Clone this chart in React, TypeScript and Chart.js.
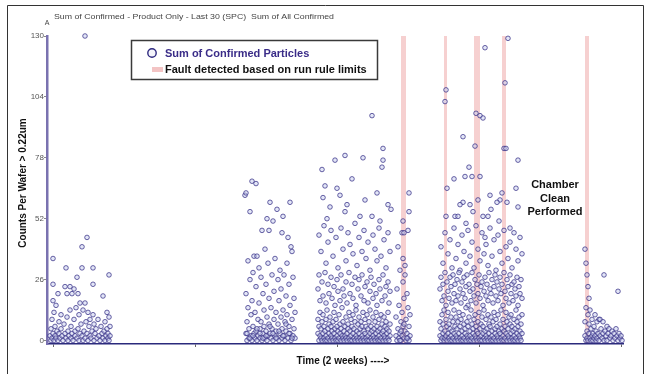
import { useEffect, useRef } from "react";
import { Chart, registerables } from "chart.js";
Chart.register(...registerables);

// ---- axis / tick values ----
const yTickValues = [0, 26, 52, 78, 104, 130];
const xTickValues = [6, 148, 290, 432, 574];

// ---- fault bands (time ranges) ----
const faultStart = [354, 397, 427, 455, 538];
const faultEnd = [359, 400, 433, 459, 542];

// ---- Sum of Confirmed Particles, [time, count] per wafer ----
const batch1: [number, number][] = [
  [3,2],[4,0],[4,5],[5,1],[5,9],[6,3],[6,17],[6,24],[6,35],[7,0],[7,12],[8,2],[8,6],[9,1],[9,15],[10,4],[11,0],[11,20],[12,8],[12,3],[13,1],[14,5],[14,11],[15,2],[16,0],[17,7],[18,3],[18,23],[19,31],[19,1],[20,20],[20,10],[21,4],[21,0],[22,2],[23,23],[23,13],[24,6],[24,1],[25,20],[25,3],[26,0],[27,22],[27,9],[28,4],[28,2],[29,14],[30,27],[30,1],[31,20],[31,5],[32,0],[32,11],[33,3],[33,16],[34,7],[35,40],[35,31],[35,2],[36,0],[36,13],[37,4],[38,130],[38,16],[38,1],[39,8],[40,44],[40,3],[41,0],[41,12],[42,6],[43,2],[43,9],[44,1],[45,4],[46,31],[46,24],[46,11],[47,0],[47,7],[48,3],[49,5],[50,1],[51,9],[52,2],[53,0],[54,6],[55,3],[56,19],[56,1],[57,4],[58,8],[58,0],[59,2],[60,12],[60,5],[61,1],[61,3],[62,28],[62,10],[62,0],[63,6],[63,2]
];

const batch2: [number, number][] = [
  [198,62],[199,63],[199,20],[199,3],[200,0],[200,8],[201,34],[201,14],[202,5],[202,1],[203,55],[203,26],[204,2],[204,11],[205,68],[205,17],[205,0],[206,6],[206,29],[207,3],[207,36],[208,1],[208,12],[209,67],[209,23],[209,4],[210,36],[210,0],[211,9],[211,2],[212,16],[212,31],[213,5],[213,1],[214,27],[214,8],[215,47],[215,0],[216,3],[216,20],[217,13],[217,6],[218,1],[218,39],[219,24],[219,4],[220,52],[220,10],[220,0],[221,2],[221,33],[222,47],[222,18],[222,7],[223,59],[223,3],[224,1],[224,14],[225,28],[225,5],[226,51],[226,0],[227,21],[227,9],[228,35],[228,2],[229,12],[229,4],[230,56],[230,1],[231,26],[231,7],[232,17],[232,0],[233,30],[233,3],[234,10],[234,22],[235,46],[235,5],[235,1],[236,53],[236,13],[237,28],[237,2],[238,8],[238,0],[239,19],[239,4],[240,33],[240,11],[241,44],[241,1],[242,24],[242,6],[243,59],[243,3],[243,15],[244,40],[244,0],[245,38],[245,9],[246,27],[246,2],[247,18],[247,5],[248,12],[248,1],
  [200,3],[203,1],[206,2],[210,5],[213,3],[216,1],[219,2],[223,6],[226,3],[229,1],[232,4],[236,2],[239,7],[242,3],[245,1]
];

const batch3: [number, number][] = [
  [325,96],[336,82],[316,78],[298,79],[288,77],[275,73],[336,77],[305,69],[335,74],[278,66],[290,65],[293,62],[276,61],[341,58],[283,57],[298,55],[313,53],[325,53],[333,51],
  [272,45],[274,38],[277,49],[279,33],[281,42],[284,47],[286,36],[289,44],[291,31],[294,48],[296,39],[299,34],[301,46],[303,41],[306,37],[308,50],[310,32],[312,44],[315,38],[317,47],[319,35],[321,42],[323,30],[326,45],[328,39],[330,34],[332,48],[334,36],[337,43],[339,31],[341,46],[343,38],[280,52],[300,58],[318,60],[330,63],[344,56],
  [271,22],[272,28],[273,17],[275,25],[276,19],[278,29],[279,16],[281,24],[282,20],[284,27],[285,18],[287,23],[288,15],[290,26],[291,21],[293,17],[294,28],[296,22],[297,19],[299,25],[300,16],[302,29],[303,20],[305,24],[306,18],[308,27],[309,15],[311,22],[312,26],[314,19],[315,28],[317,17],[318,23],[320,25],[321,16],[323,21],[324,27],[326,18],[327,24],[329,20],[330,15],[332,26],[333,22],[335,17],[336,28],[338,19],[339,23],[341,25],[342,16],[343,21],
  [271,3],[271,9],[272,0],[272,6],[273,2],[273,12],[274,1],[274,5],[275,8],[275,0],[276,3],[276,11],[277,1],[277,6],[278,0],[278,4],[279,9],[279,2],[280,13],[280,0],[281,5],[281,1],[282,7],[282,3],[283,0],[283,10],[284,2],[284,6],[285,1],[285,4],[286,8],[286,0],[287,3],[287,12],[288,1],[288,5],[289,0],[289,9],[290,2],[290,6],[291,4],[291,0],[292,11],[292,1],[293,7],[293,3],[294,0],[294,5],[295,2],[295,14],[296,1],[296,8],[297,4],[297,0],[298,6],[298,2],[299,10],[299,1],[300,3],[300,0],[301,7],[301,5],[302,1],[302,12],[303,0],[303,4],[304,9],[304,2],[305,6],[305,0],[306,3],[306,11],[307,1],[307,5],[308,8],[308,0],[309,2],[309,13],[310,4],[310,1],[311,0],[311,7],[312,3],[312,10],[313,1],[313,5],[314,0],[314,8],[315,2],[315,6],[316,12],[316,1],[317,4],[317,0],[318,9],[318,3],[319,1],[319,6],[320,0],[320,11],[321,2],[321,5],[322,8],[322,0],[323,3],[323,13],[324,1],[324,6],[325,0],[325,4],[326,10],[326,2],[327,5],[327,1],[328,0],[328,8],[329,3],[329,12],[330,1],[330,6],[331,0],[331,4],[332,9],[332,2],[333,5],[333,0],[334,1],[334,11],[335,3],[335,7],[336,0],[336,4],[337,2],[337,10],[338,1],[338,6],[339,0],[339,8],[340,3],[340,5],[341,1],[341,12],[342,0],[342,4],[343,2],[343,7]
];

const batch4: [number, number][] = [
  [349,2],[349,10],[350,0],[350,22],[351,5],[351,40],[352,1],[352,15],[353,3],[353,30],[354,8],[354,0],[355,46],[355,12],[355,2],[356,51],[356,35],[356,25],[356,6],[357,46],[357,18],[357,1],[358,28],[358,4],[359,9],[359,0],[360,20],[360,3],[361,47],[361,14],[361,1],[362,55],[362,63],[362,6],[363,2],[363,11],[362,0],[358,32],[354,4],[357,7],[360,1],[353,0]
];

const batch5: [number, number][] = [
  [461,129],[438,125],[399,107],[398,102],[429,97],[433,96],[436,95],[458,110],[416,87],[428,83],[457,82],[459,82],[471,77],[422,74],[418,70],[425,70],[433,70],[407,69],[400,65],[443,62],[455,63],[453,60],[469,65],[416,59],[413,58],[423,58],[431,60],[450,59],[460,59],[471,57],[408,53],[411,53],[399,53],[419,50],[436,53],[441,53],[438,44],[463,48],
  [394,40],[396,33],[398,46],[401,37],[403,43],[405,31],[407,48],[409,35],[411,41],[413,30],[415,45],[417,38],[419,33],[421,47],[423,36],[425,42],[427,31],[429,49],[431,39],[433,34],[435,46],[437,37],[439,41],[441,32],[443,48],[445,36],[447,43],[449,30],[451,45],[453,38],[455,33],[457,47],[459,40],[461,35],[463,42],[465,31],[467,46],[469,39],[471,34],[473,44],[475,37],[452,51],[426,55],[444,56],
  [393,22],[394,27],[395,17],[396,24],[397,19],[398,29],[399,15],[400,25],[401,21],[402,18],[403,27],[404,23],[405,16],[406,28],[407,20],[408,24],[409,17],[410,26],[411,19],[412,29],[413,22],[414,16],[415,25],[416,20],[417,27],[418,18],[419,23],[420,28],[421,15],[422,24],[423,21],[424,17],[425,29],[426,22],[427,19],[428,26],[429,16],[430,24],[431,20],[432,28],[433,18],[434,23],[435,25],[436,15],[437,21],[438,27],[439,19],[440,24],[441,17],[442,29],[443,22],[444,20],[445,26],[446,16],[447,23],[448,28],[449,19],[450,25],[451,17],[452,22],[453,27],[454,20],[455,24],[456,15],[457,29],[458,21],[459,18],[460,26],[461,23],[462,16],[463,28],[464,20],[465,24],[466,17],[467,25],[468,22],[469,19],[470,27],[471,15],[472,23],[473,20],[474,26],[475,18],
  [393,2],[393,8],[394,0],[394,5],[395,11],[395,1],[396,3],[396,7],[397,0],[397,13],[398,4],[398,1],[399,9],[399,2],[400,0],[400,6],[401,12],[401,3],[402,1],[402,7],[403,0],[403,5],[404,10],[404,2],[405,4],[405,0],[406,8],[406,1],[407,3],[407,13],[408,0],[408,6],[409,2],[409,10],[410,5],[410,1],[411,0],[411,8],[412,3],[412,12],[413,1],[413,6],[414,0],[414,9],[415,4],[415,2],[416,11],[416,0],[417,1],[417,7],[418,5],[418,3],[419,0],[419,14],[420,2],[420,8],[421,6],[421,1],[422,0],[422,10],[423,4],[423,2],[424,13],[424,0],[425,1],[425,7],[426,5],[426,3],[427,0],[427,9],[428,2],[428,11],[429,6],[429,1],[430,0],[430,4],[431,8],[431,3],[432,1],[432,12],[433,0],[433,5],[434,7],[434,2],[435,10],[435,0],[436,3],[436,6],[437,1],[437,13],[438,0],[438,4],[439,9],[439,2],[440,5],[440,1],[441,0],[441,11],[442,3],[442,7],[443,1],[443,6],[444,0],[444,10],[445,2],[445,4],[446,8],[446,0],[447,1],[447,12],[448,5],[448,3],[449,0],[449,9],[450,2],[450,6],[451,11],[451,1],[452,0],[452,4],[453,7],[453,3],[454,1],[454,13],[455,0],[455,5],[456,9],[456,2],[457,4],[457,0],[458,6],[458,1],[459,12],[459,3],[460,0],[460,8],[461,2],[461,5],[462,10],[462,1],[463,0],[463,7],[464,3],[464,11],[465,1],[465,6],[466,0],[466,4],[467,9],[467,2],[468,5],[468,0],[469,13],[469,1],[470,3],[470,8],[471,0],[471,6],[472,2],[472,10],[473,4],[473,1],[474,0],[474,7],[475,3],[475,11]
];

const batch6: [number, number][] = [
  [538,39],[538,8],[538,2],[539,33],[539,0],[539,14],[540,28],[540,4],[540,1],[541,23],[541,11],[541,0],[542,18],[542,3],[542,7],[543,1],[543,13],[544,5],[544,0],[545,9],[545,2],[546,3],[546,0],[547,6],[547,1],[548,11],[548,2],[549,4],[549,0],[550,8],[550,1],[551,3],[552,9],[552,0],[553,9],[553,2],[554,5],[555,1],[556,8],[556,3],[557,28],[557,0],[558,4],[559,2],[560,6],[560,0],[561,3],[562,5],[563,1],[564,2],[565,4],[566,0],[567,3],[568,1],[569,5],[570,2],[571,21],[571,0],[572,3],[573,1],[574,2],[575,0]
];

const seriesLabel = "Sum of Confirmed Particles";
const faultLabel = "Fault detected based on run rule limits";
const chartTitle = "Sum of Confirmed - Product Only - Last 30 (SPC)  Sum of All Confirmed";
const yAxisTitle = "Counts Per Wafer > 0.22um";
const xAxisTitle = "Time (2 weeks) ---->";
const noteLines = ["Chamber", "Clean", "Performed"];

const FONT = "'Liberation Sans', Arial, sans-serif";

const decorPlugin = {
  id: "decor",
  beforeDatasetsDraw(chart: any) {
    const { ctx, chartArea, scales } = chart;
    const x = scales.x;
    ctx.save();
    ctx.fillStyle = "#f6d0d0";
    faultStart.forEach((s, i) => {
      const x0 = x.getPixelForValue(s);
      const x1 = x.getPixelForValue(faultEnd[i]);
      ctx.fillRect(x0, chartArea.top, x1 - x0, chartArea.bottom - chartArea.top - 1);
    });
    ctx.restore();
  },
  afterDraw(chart: any) {
    const { ctx } = chart;
    ctx.save();
    // outer frame
    ctx.strokeStyle = "#333";
    ctx.lineWidth = 1;
    ctx.beginPath();
    ctx.moveTo(7.5, 380);
    ctx.lineTo(7.5, 5.5);
    ctx.lineTo(643.5, 5.5);
    ctx.lineTo(643.5, 380);
    ctx.stroke();

    // title
    ctx.fillStyle = "#444";
    ctx.font = `8px ${FONT}`;
    ctx.textAlign = "left";
    ctx.textBaseline = "alphabetic";
    const tw = ctx.measureText(chartTitle).width;
    ctx.save();
    ctx.translate(54, 19);
    ctx.scale(280 / tw, 1);
    ctx.fillText(chartTitle, 0, 0);
    ctx.restore();
    ctx.font = `7px ${FONT}`;
    ctx.textAlign = "center";
    ctx.fillText("A", 47, 25);

    // y axis title
    ctx.fillStyle = "#111";
    ctx.font = `bold 10px ${FONT}`;
    ctx.save();
    ctx.translate(23, 183);
    ctx.rotate(-Math.PI / 2);
    ctx.textAlign = "center";
    ctx.textBaseline = "middle";
    ctx.fillText(yAxisTitle, 0, 0);
    ctx.restore();

    // x axis title
    ctx.textAlign = "center";
    ctx.textBaseline = "middle";
    ctx.fillText(xAxisTitle, 343, 361);

    // note
    ctx.font = `bold 11px ${FONT}`;
    noteLines.forEach((l, i) => ctx.fillText(l, 555, 185 + i * 13.5));

    // legend
    ctx.fillStyle = "#fff";
    ctx.fillRect(131, 40, 247, 40);
    ctx.strokeStyle = "#3a3a3a";
    ctx.lineWidth = 1.5;
    ctx.strokeRect(131.5, 40.5, 246, 39);
    ctx.beginPath();
    ctx.arc(152, 53, 4.2, 0, Math.PI * 2);
    ctx.fillStyle = "#f4f4fb";
    ctx.fill();
    ctx.strokeStyle = "#2f2a80";
    ctx.lineWidth = 1.4;
    ctx.stroke();
    ctx.fillStyle = "#f3c4c4";
    ctx.fillRect(152, 67, 11, 5);
    ctx.textAlign = "left";
    ctx.font = `bold 11px ${FONT}`;
    ctx.fillStyle = "#3a2c88";
    ctx.fillText(seriesLabel, 165, 54);
    ctx.fillStyle = "#111";
    ctx.fillText(faultLabel, 165, 70);
    ctx.restore();
  },
};

export default function App() {
  const ref = useRef<HTMLCanvasElement | null>(null);
  useEffect(() => {
    document.body.style.margin = "0";
    const all = [...batch1, ...batch2, ...batch3, ...batch4, ...batch5, ...batch6].map(([x, y]) => ({ x, y }));
    const chart = new Chart(ref.current as HTMLCanvasElement, {
      type: "scatter",
      data: {
        datasets: [
          {
            label: seriesLabel,
            data: all,
            pointRadius: 2.3,
            pointBorderWidth: 1,
            borderColor: "rgba(55,48,135,0.75)",
            backgroundColor: "rgba(200,205,240,0.5)",
            clip: false as any,
          },
        ],
      },
      options: {
        animation: false,
        responsive: false,
        layout: { padding: { top: 36, right: 27, left: 0, bottom: 0 } },
        plugins: { legend: { display: false }, tooltip: { enabled: false }, title: { display: false } },
        scales: {
          x: {
            type: "linear",
            min: 0,
            max: 576,
            afterBuildTicks: (s: any) => { s.ticks = xTickValues.map((v) => ({ value: v })); },
            afterFit: (s: any) => { s.height = 30; },
            ticks: { callback: () => "", padding: 0 },
            grid: { drawOnChartArea: false, drawTicks: true, tickLength: 3, color: "#666" },
            border: { display: true, color: "#2b2a7c", width: 1.5 },
          },
          y: {
            type: "linear",
            min: -1.5,
            max: 130,
            afterBuildTicks: (s: any) => { s.ticks = yTickValues.map((v) => ({ value: v })); },
            afterFit: (s: any) => { s.width = 47; },
            ticks: { color: "#555", font: { family: FONT, size: 8 }, padding: 0 },
            grid: { drawOnChartArea: false, drawTicks: true, tickLength: 3, color: "#888" },
            border: { display: true, color: "#7a72b0", width: 2.5 },
          },
        },
      },
      plugins: [decorPlugin],
    });
    return () => chart.destroy();
  }, []);
  return <canvas ref={ref} width={650} height={374} style={{ display: "block", width: 650, height: 374 }} />;
}
